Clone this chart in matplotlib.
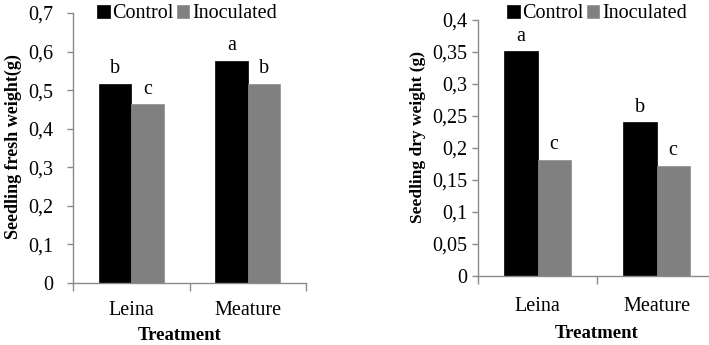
import matplotlib
matplotlib.use("Agg")
import matplotlib.pyplot as plt
import numpy as np

categories = ["Leina", "Meature"]
series_names = ["Control", "Inoculated"]
fresh_control = [0.516, 0.576]
fresh_inoculated = [0.463, 0.516]
fresh_letters_control = ["b", "a"]
fresh_letters_inoculated = ["c", "b"]
dry_control = [0.351, 0.240]
dry_inoculated = [0.182, 0.172]
dry_letters_control = ["a", "b"]
dry_letters_inoculated = ["c", "c"]
fresh_yticks = [0, 0.1, 0.2, 0.3, 0.4, 0.5, 0.6, 0.7]
fresh_yticklabels = ["0", "0,1", "0,2", "0,3", "0,4", "0,5", "0,6", "0,7"]
dry_yticks = [0, 0.05, 0.1, 0.15, 0.2, 0.25, 0.3, 0.35, 0.4]
dry_yticklabels = ["0", "0,05", "0,1", "0,15", "0,2", "0,25", "0,3", "0,35", "0,4"]

plt.rcParams['font.family'] = ['Liberation Serif', 'DejaVu Serif']
W, H = 709, 345
fig = plt.figure(figsize=(W / 100, H / 100), dpi=100)

C_BLACK = "#000000"
C_GRAY = "#808080"
C_AXIS = "#8a8a8a"
FS = 14.5


def make_panel(rect, ctrl, inoc, lc, li, yticks, yticklabels, ymax, ylabel,
               ylabel_xy, ylabel_fs, treat_xy, legend_xy, label_pad, xlabel_pad):
    ax = fig.add_axes(rect)
    x = np.arange(len(categories)) + 0.5
    w = 0.28
    b1 = ax.bar(x - w / 2, ctrl, w, color=C_BLACK, edgecolor=C_BLACK, linewidth=0.5,
                label=series_names[0])
    b2 = ax.bar(x + w / 2, inoc, w, color=C_GRAY, edgecolor="#8c8c8c", linewidth=0.5,
                label=series_names[1])
    for rects, letters in ((b1, lc), (b2, li)):
        for r, t in zip(rects, letters):
            ax.annotate(t, (r.get_x() + r.get_width() / 2, r.get_height()),
                        xytext=(0, 4), textcoords="offset points",
                        ha="center", va="bottom", fontsize=FS)
    ax.set_xlim(0, len(categories))
    ax.set_ylim(0, ymax)
    ax.set_yticks(yticks)
    ax.set_yticklabels(yticklabels, fontsize=FS)
    ax.set_xticks([0, 1, 2])
    ax.set_xticklabels([])
    ax.set_xticks(x, minor=True)
    ax.set_xticklabels(categories, minor=True, fontsize=FS)
    ax.tick_params(axis="x", which="major", direction="out", length=6, color=C_AXIS, width=1)
    ax.tick_params(axis="x", which="minor", length=0, pad=xlabel_pad)
    ax.tick_params(axis="y", direction="out", length=4, color=C_AXIS, width=1, pad=label_pad)
    for s in ("top", "right"):
        ax.spines[s].set_visible(False)
    for s in ("left", "bottom"):
        ax.spines[s].set_color(C_AXIS)
        ax.spines[s].set_linewidth(1)
    fig.text(ylabel_xy[0] / W, 1 - ylabel_xy[1] / H, ylabel, rotation=90,
             ha="center", va="center", fontsize=ylabel_fs, fontweight="bold")
    fig.text(treat_xy[0] / W, 1 - treat_xy[1] / H, "Treatment",
             ha="center", va="center", fontsize=13.5, fontweight="bold")
    fig.legend(handles=[b1, b2], loc="center",
               bbox_to_anchor=(legend_xy[0] / W, 1 - legend_xy[1] / H),
               ncol=2, frameon=False, fontsize=FS, handlelength=0.6,
               handleheight=0.6, handletextpad=0.12, columnspacing=0.2,
               borderpad=0, borderaxespad=0)
    return ax


make_panel([73 / W, 1 - 283 / H, (306 - 73) / W, (283 - 13) / H],
           fresh_control, fresh_inoculated, fresh_letters_control, fresh_letters_inoculated,
           fresh_yticks, fresh_yticklabels, 0.7, "Seedling fresh weight(g)", (13, 147), 13,
           (180, 336), (187, 14), 10, 13)

make_panel([478 / W, 1 - 276 / H, (716 - 478) / W, (276 - 20) / H],
           dry_control, dry_inoculated, dry_letters_control, dry_letters_inoculated,
           dry_yticks, dry_yticklabels, 0.4, "Seedling dry weight (g)", (418, 137), 12.5,
           (597, 333), (597, 14), 4, 15)

fig.savefig("out.png", dpi=100)
